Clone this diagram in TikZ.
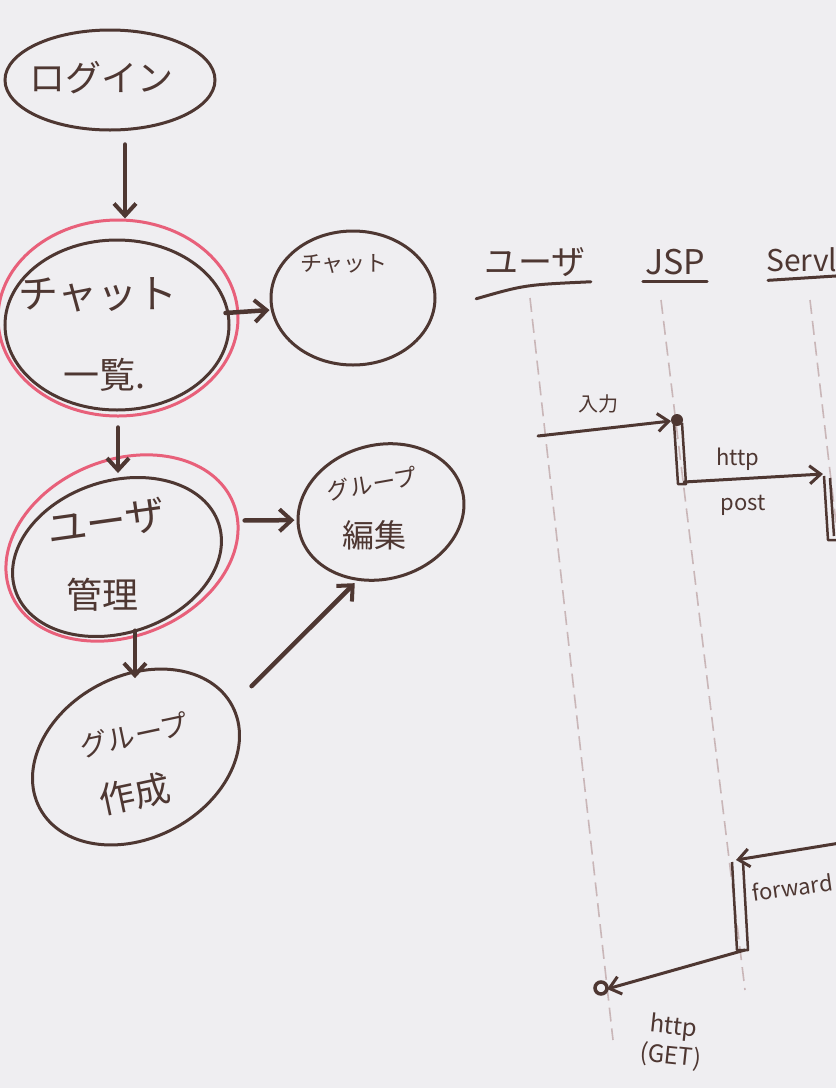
\documentclass[tikz,border=0pt]{standalone}
\usepackage{fontspec}
\setmainfont{Noto Sans CJK JP}
\usetikzlibrary{shapes.geometric,arrows.meta,calc}
\definecolor{board}{HTML}{EFEEF1}
\definecolor{ink}{HTML}{4E3732}
\definecolor{hl}{HTML}{E8607A}
\definecolor{lifec}{HTML}{C9B6B8}
\tikzset{
  pen/.style={draw=ink,line width=3pt,line cap=round},
  oval/.style={ellipse,draw=ink,line width=3pt,inner sep=0pt},
  hloval/.style={ellipse,draw=hl,line width=3pt,inner sep=0pt},
  arr/.style={draw=ink,line width=4.5pt,line cap=round,-{Straight Barb[length=12pt,width=22pt,line width=4pt]}},
  sarr/.style={draw=ink,line width=3pt,line cap=round,-{Straight Barb[length=11pt,width=18pt,line width=3pt]}},
  life/.style={draw=lifec,line width=1.6pt,dash pattern=on 14pt off 7pt},
  txt/.style={text=ink,inner sep=0pt,align=center},
  act/.style={draw=ink,line width=2.5pt,line join=round},
}
\begin{document}
\begin{tikzpicture}[x=1pt,y=-1pt]
\useasboundingbox (0,0) rectangle (836,1088);
\fill[board] (0,0) rectangle (836,1088);
\begin{scope}
\clip (0,0) rectangle (836,1088);
% ---------- screen flow ----------
\node[oval,minimum width=210pt,minimum height=100pt] (login) at (110,80) {};
\node[txt,font=\fontsize{36}{40}\selectfont] (loginT) at (102,78) {ログイン};

\node[hloval,minimum width=240pt,minimum height=196pt] (chatlistH) at (118,318) {};
\node[oval,minimum width=224pt,minimum height=170pt] (chatlist) at (117,325) {};
\node[txt,font=\fontsize{40}{44}\selectfont] (chatlistT1) at (98,295) {チャット};
\node[txt,font=\fontsize{36}{40}\selectfont] (chatlistT2) at (105,375) {一覧.};

\node[oval,minimum width=164pt,minimum height=134pt] (chat) at (353,298) {};
\node[txt,font=\fontsize{22}{26}\selectfont] (chatT) at (344,264) {チャット};

\node[hloval,minimum width=240pt,minimum height=176pt,rotate=22] (userAH) at (122,548) {};
\node[oval,minimum width=214pt,minimum height=152pt,rotate=18] (userA) at (117,557) {};
\node[txt,font=\fontsize{40}{44}\selectfont,rotate=8] (userAT1) at (106,522) {ユーザ};
\node[txt,font=\fontsize{36}{40}\selectfont] (userAT2) at (102,595) {管理};

\node[oval,minimum width=168pt,minimum height=134pt,rotate=15] (gEdit) at (381,512) {};
\node[txt,font=\fontsize{23}{27}\selectfont,rotate=10] (gEditT1) at (372,484) {グループ};
\node[txt,font=\fontsize{32}{36}\selectfont] (gEditT2) at (374,535) {編集};

\node[oval,minimum width=218pt,minimum height=162pt,rotate=28] (gNew) at (136,757) {};
\node[txt,font=\fontsize{28}{32}\selectfont,rotate=12] (gNewT1) at (134,735) {グループ};
\node[txt,font=\fontsize{36}{40}\selectfont,rotate=12] (gNewT2) at (135,794) {作成};

\draw[arr] ($(login.south)+(15,13)$) -- ($(chatlistH.north)+(7,0)$);
\draw[arr] ($(chatlist.east)+(-5,-12)$) -- ($(chat.west)+(0,12)$);
\draw[arr] ($(chatlistH.south)+(0,10)$) -- ($(chatlistH.south |- userAH.north)+(0,8)$);
\draw[arr] ($(userAH.east)+(10,18)$) -- ($(gEdit.west)+(-4,-14)$);
\draw[arr] ($(userA.south)+(-6,0)$) -- ($(userA.south |- gNew.north)+(-6,-6)$);
\draw[arr] ($(gNew.east)+(18,-19)$) -- ($(gEdit.south)+(-44,5)$);

% ---------- sequence ----------
\node[txt,font=\fontsize{34}{38}\selectfont] (userH) at (535,262) {ユーザ};
\node[txt,font=\fontsize{34}{38}\selectfont] (jspH) at (675,262) {JSP};
\node[txt,font=\fontsize{30}{34}\selectfont,anchor=west] (servH) at (766,260) {Servlet};
\draw[pen] ($(userH.south west)+(-8,22)$) .. controls ($(userH.south)+(-10,8)$) .. ($(userH.south east)+(5,5)$);
\draw[pen] ($(jspH.south west)+(-2,6)$) -- ($(jspH.south east)+(2,6)$);
\draw[pen] ($(servH.south west)+(2,8)$) -- ($(servH.south west)+(80,3)$);

\coordinate (uTop) at (530,298);
\coordinate (uBot) at (613,1040);
\coordinate (jTop) at (661,300);
\coordinate (jBot) at (745,990);
\coordinate (sTop) at (810,300);
\coordinate (sBot) at (838,540);
\draw[life] (uTop) -- (uBot);
\draw[life] (jTop) -- (jBot);
\draw[life] (sTop) -- (sBot);

% 入力
\coordinate (m1s) at (538,436);
\coordinate (m1e) at (671,421);
\draw[sarr] (m1s) -- (m1e);
\fill[ink] (677,420) circle (6pt);
\node[txt,font=\fontsize{20}{24}\selectfont] (m1T) at (598,404) {入力};
% JSP activation 1
\draw[act] (674,423) -- (678,484) -- (686,484) -- (682,423);
% http post
\coordinate (m2s) at (684,482);
\coordinate (m2e) at (823,474);
\draw[sarr] (m2s) -- (m2e);
\node[txt,font=\fontsize{22}{26}\selectfont] (m2T1) at (738,459) {http};
\node[txt,font=\fontsize{22}{26}\selectfont] (m2T2) at (743,505) {post};
% servlet activation
\draw[act] (824,476) -- (828,540) -- (840,540);
\draw[act] (830,478) -- (834,536);
% forward
\coordinate (m3s) at (840,843);
\coordinate (m3e) at (736,860);
\draw[sarr] (m3s) -- (m3e);
\node[txt,font=\fontsize{22}{26}\selectfont,rotate=8,anchor=west] (m3T) at (752,893) {forward};
% JSP activation 2
\draw[act] (732,862) -- (737,950) -- (748,950) -- (743,862);
% http (GET)
\coordinate (m4s) at (745,950);
\coordinate (m4e) at (607,989);
\draw[sarr] (m4s) -- (m4e);
\draw[ink,line width=3.5pt] (601,988) circle (6pt);
\node[txt,font=\fontsize{24}{30}\selectfont,rotate=-6] (m4T) at (672,1042) {http\\(GET)};
\end{scope}
\end{tikzpicture}
\end{document}
